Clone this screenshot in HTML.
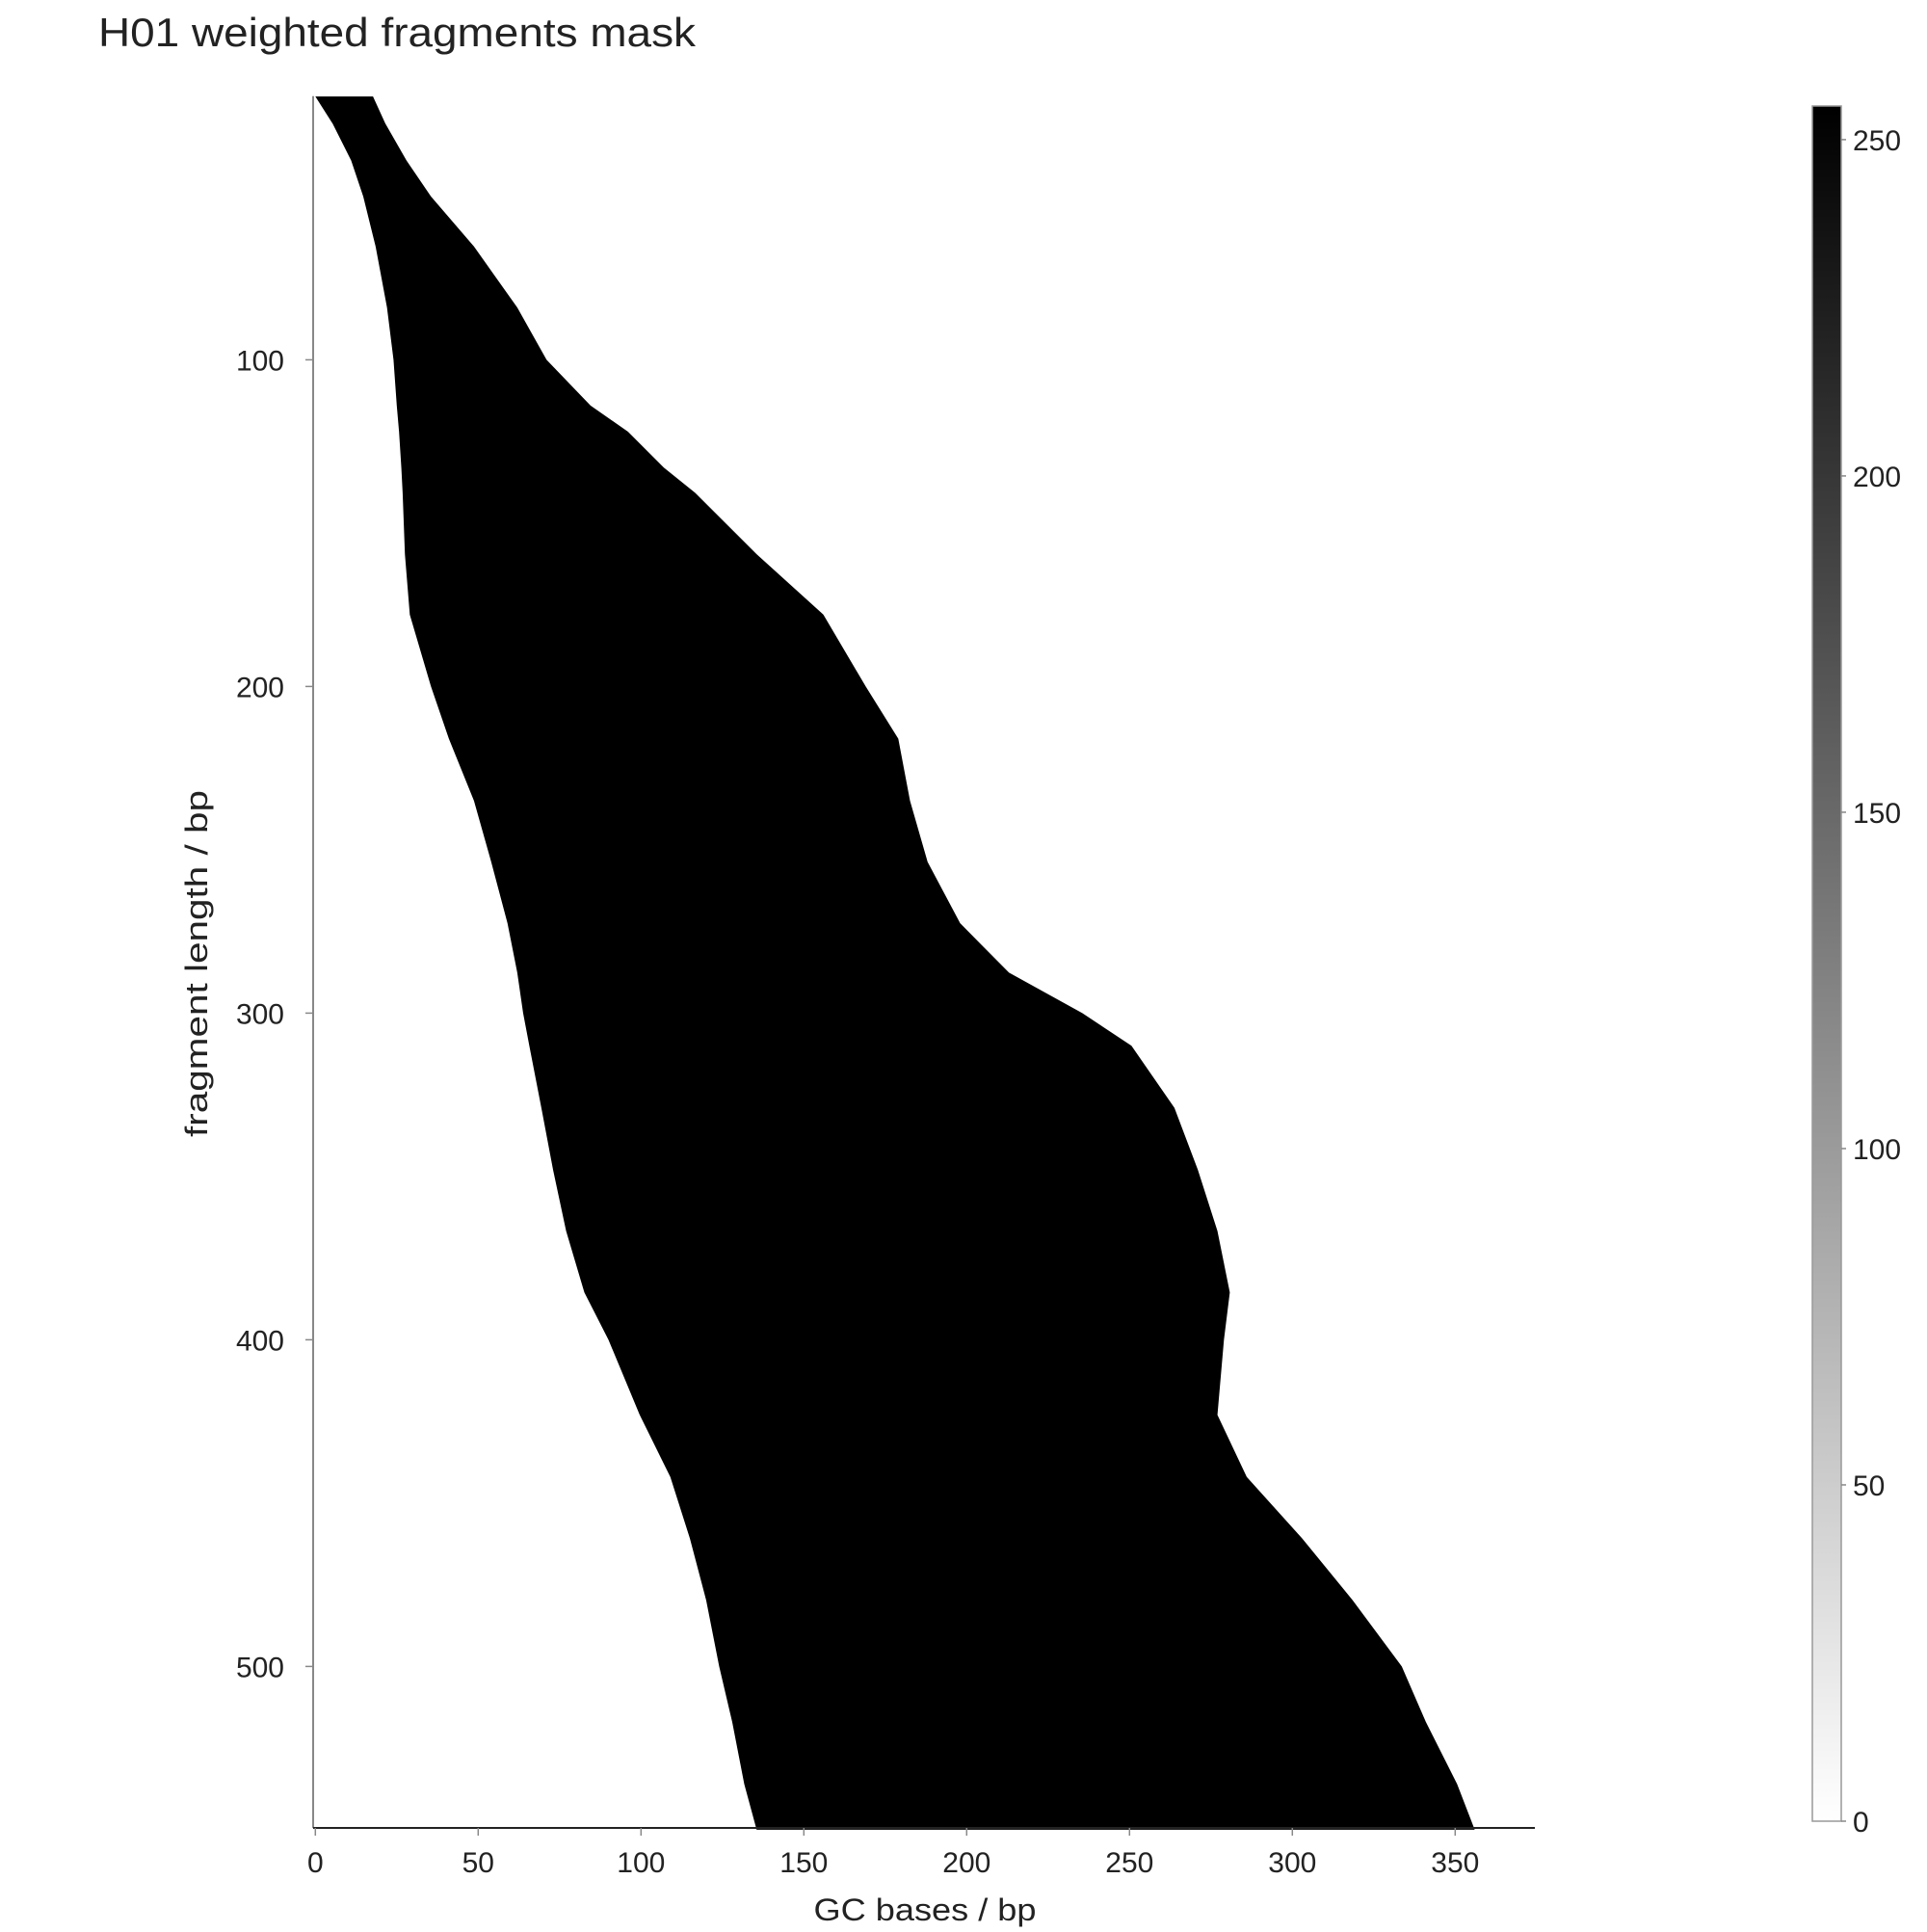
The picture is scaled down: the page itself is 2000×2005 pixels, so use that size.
<!DOCTYPE html>
<html><head><meta charset="utf-8"><style>
html,body{margin:0;padding:0;background:#fff;}
svg text{font-family:"Liberation Sans",sans-serif;fill:#222;}
</style></head><body>
<svg id="chart" width="2000" height="2000" viewBox="0 0 2000 2000" xmlns="http://www.w3.org/2000/svg">
<defs><linearGradient id="cb" x1="0" y1="1" x2="0" y2="0"><stop offset="0" stop-color="#fff"/><stop offset="1" stop-color="#000"/></linearGradient></defs>
<text x="102" y="48" font-size="42" textLength="620" lengthAdjust="spacingAndGlyphs">H01 weighted fragments mask</text>
<g id="plot"></g>
<text x="960" y="1993" font-size="32" text-anchor="middle" textLength="231" lengthAdjust="spacingAndGlyphs">GC bases / bp</text>
<text transform="translate(215,1000) rotate(-90)" font-size="32" text-anchor="middle" textLength="360" lengthAdjust="spacingAndGlyphs">fragment length / bp</text>
<rect x="1881" y="110" width="30" height="1780" fill="url(#cb)" stroke="#999" stroke-width="1.5"/>
<g id="cbticks"></g>
</svg>
<script>
const lengths=[19.4,27.7,39,50,65.3,84,100,114,122,133,140.7,159.5,178,200,216,235,253.7,272.5,287.6,300,310,329,348,366.7,385.5,400,423,442,460.8,479.7,500,517,536,550];
const leftGC=[0,5.3,11,14.7,18.5,22,24,25,25.7,26.4,26.8,27.5,29,35.5,41,48.7,54,59,62,63.8,65.7,69.4,73,77,82.6,90,99.6,109,115,120,124,128,131.7,135.5];
const rightGC=[17.7,21.5,28,35.5,48.7,62,71,84.5,96,107,116.6,135.5,156,169,179,182.6,188,198,213,235.5,250.6,263.8,271,277,280.8,279,277,286,303,318.5,333.6,341,350.6,356];
const xTicks=[0,50,100,150,200,250,300,350];
const yTicks=[100,200,300,400,500];
const cbTicks=[0,50,100,150,200,250];
const X0=327.3,XS=3.38,Y0=34.4,YS=3.39;
const sx=v=>X0+v*XS, sy=v=>Y0+v*YS;
const cbY=v=>1890-v/255*1780;
const NS="http://www.w3.org/2000/svg";
const plot=document.getElementById('plot');
function mk(t,a,p){const e=document.createElementNS(NS,t);for(const k in a)e.setAttribute(k,a[k]);p.appendChild(e);return e;}
let pts=[];
for(let i=0;i<lengths.length;i++)pts.push(sx(leftGC[i])+','+Math.max(99.7,sy(lengths[i])));
for(let i=lengths.length-1;i>=0;i--)pts.push(sx(rightGC[i])+','+Math.max(99.7,sy(lengths[i])));
const poly=mk('polygon',{points:pts.join(' '),fill:'#000'},plot);


const ya=mk('line',{x1:325,y1:99.7,x2:325,y2:1897,stroke:'#888','stroke-width':2},plot);


const xa=mk('line',{x1:325,y1:1897,x2:1593,y2:1897,stroke:'#222','stroke-width':2},plot);


xTicks.forEach(v=>{
 const t=mk('line',{x1:sx(v),y1:1897,x2:sx(v),y2:1905,stroke:'#888','stroke-width':1.5},plot);
 
 
 const l=mk('text',{x:sx(v),y:1943,'font-size':30,'text-anchor':'middle'},plot);l.textContent=v;
 
 
});
yTicks.forEach(v=>{
 const t=mk('line',{x1:317,y1:sy(v),x2:325,y2:sy(v),stroke:'#888','stroke-width':1.5},plot);
 
 
 const l=mk('text',{x:295,y:sy(v)+11,'font-size':30,'text-anchor':'end'},plot);l.textContent=v;
 
 
});
const cbg=document.getElementById('cbticks');
cbTicks.forEach(v=>{
 const t=mk('line',{x1:1911,y1:cbY(v),x2:1916,y2:cbY(v),stroke:'#888','stroke-width':1.5},cbg);
 
 
 const l=mk('text',{x:1923,y:cbY(v)+11,'font-size':30},cbg);l.textContent=v;
 
 
});
</script>
</body></html>
